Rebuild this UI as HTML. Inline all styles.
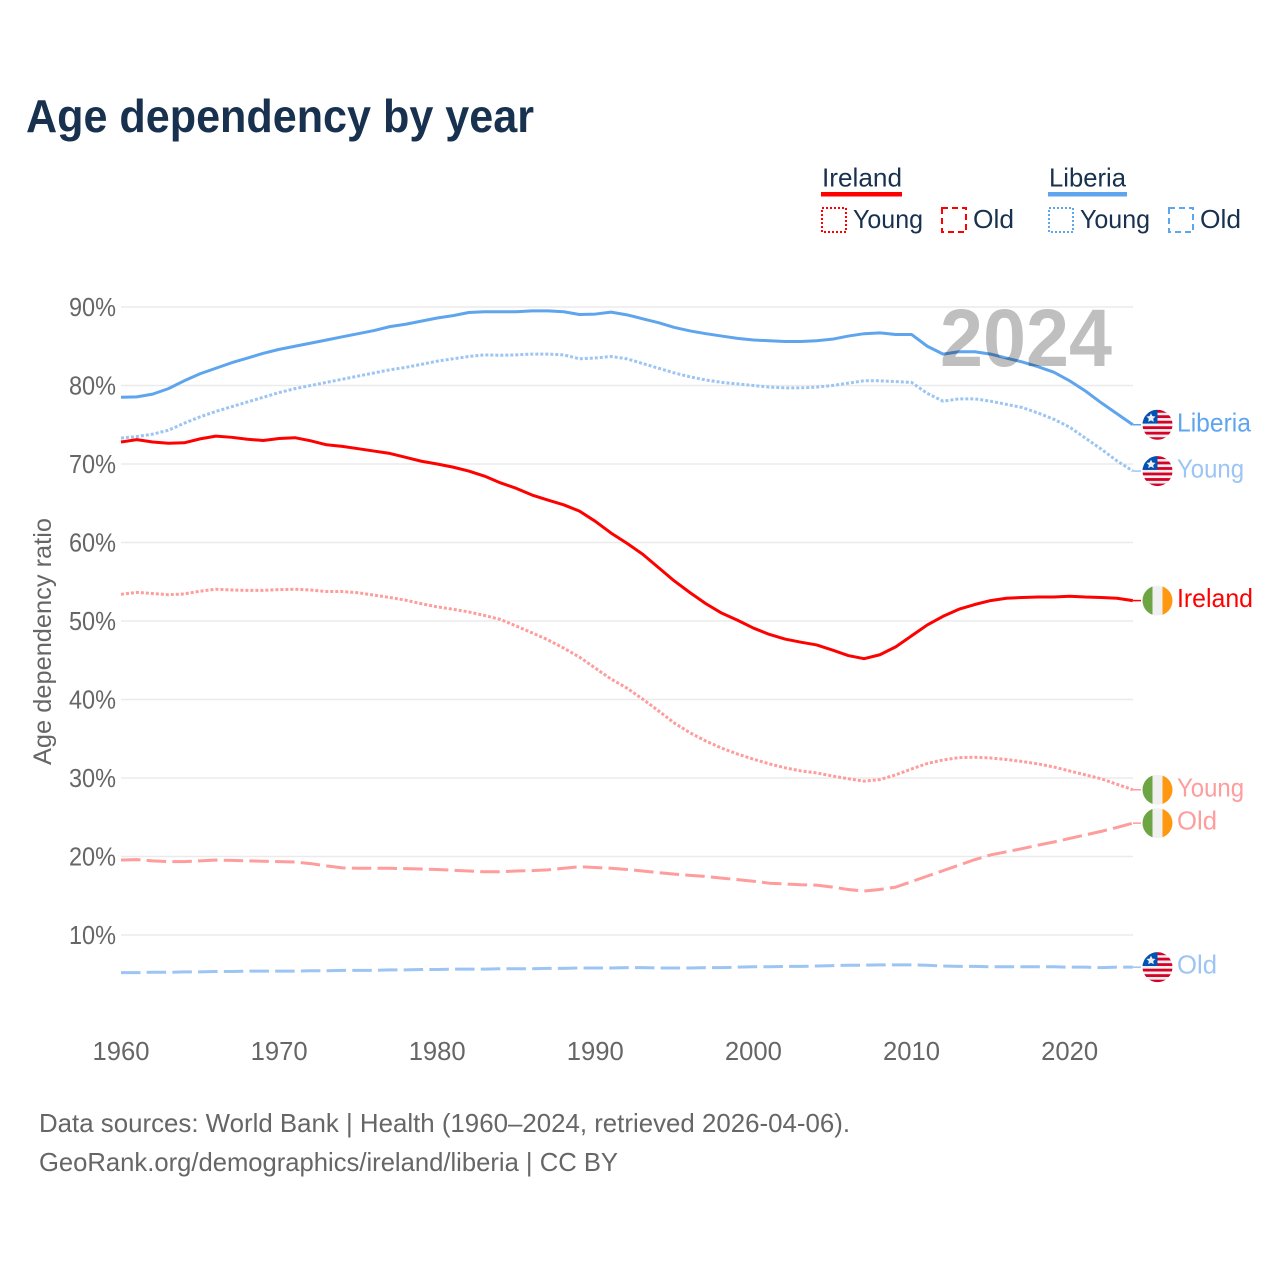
<!DOCTYPE html>
<html lang="en">
<head>
<meta charset="utf-8">
<title>Age dependency by year</title>
<style>
html,body{margin:0;padding:0;background:#fff;}
svg{display:block;font-family:"Liberation Sans",sans-serif;}
</style>
</head>
<body>
<svg id="chart" xmlns="http://www.w3.org/2000/svg" width="1280" height="1280" viewBox="0 0 1280 1280">
  <defs>
    <clipPath id="flag-clip"><circle cx="0" cy="0" r="15"/></clipPath>
    <g id="flag-lr" clip-path="url(#flag-clip)">
      <rect x="-15" y="-15" width="30" height="30" fill="#f0f0f0"/>
      <rect x="-15" y="-15" width="30" height="3" fill="#d80027"/>
      <rect x="-15" y="-9.5" width="30" height="2.8" fill="#d80027"/>
      <rect x="-15" y="-4" width="30" height="2.8" fill="#d80027"/>
      <rect x="-15" y="1.5" width="30" height="2.8" fill="#d80027"/>
      <rect x="-15" y="7" width="30" height="2.8" fill="#d80027"/>
      <rect x="-15" y="12.5" width="30" height="2.8" fill="#d80027"/>
      <rect x="-15" y="-15" width="15" height="13.8" fill="#0052b4"/>
      <polygon points="-6.5,-11.5 -5.1,-8.6 -2,-8.2 -4.3,-6 -3.7,-2.9 -6.5,-4.4 -9.3,-2.9 -8.7,-6 -11,-8.2 -7.9,-8.6" fill="#f0f0f0"/>
    </g>
    <g id="flag-ie" clip-path="url(#flag-clip)">
      <rect x="-15" y="-15" width="30" height="30" fill="#f0f0f0"/>
      <rect x="-15" y="-15" width="10" height="30" fill="#6da544"/>
      <rect x="5" y="-15" width="10" height="30" fill="#ff9811"/>
    </g>
  </defs>

  <rect x="0" y="0" width="1280" height="1280" fill="#fff"/>

  <text x="26" y="132" font-size="46" font-weight="700" fill="#18314f" textLength="508" lengthAdjust="spacingAndGlyphs">Age dependency by year</text>

  <g>
    <text x="822" y="186.5" font-size="26" fill="#18314f" textLength="80" lengthAdjust="spacingAndGlyphs">Ireland</text>
    <rect x="821" y="192" width="81" height="4.5" fill="#ff0000"/>
    <rect x="822" y="208" width="24" height="24" fill="none" stroke="#ff0000" stroke-width="2" stroke-dasharray="2 2"/>
    <text x="853" y="228" font-size="26" fill="#18314f" textLength="70" lengthAdjust="spacingAndGlyphs">Young</text>
    <rect x="942" y="208" width="24" height="24" fill="none" stroke="#ff0000" stroke-width="2" stroke-dasharray="6 4"/>
    <text x="973" y="228" font-size="26" fill="#18314f" textLength="41" lengthAdjust="spacingAndGlyphs">Old</text>

    <text x="1049" y="186.5" font-size="26" fill="#18314f" textLength="77" lengthAdjust="spacingAndGlyphs">Liberia</text>
    <rect x="1048" y="192" width="79" height="4.5" fill="#5fa5ee"/>
    <rect x="1049" y="208" width="24" height="24" fill="none" stroke="#5fa5ee" stroke-width="2" stroke-dasharray="2 2"/>
    <text x="1080" y="228" font-size="26" fill="#18314f" textLength="70" lengthAdjust="spacingAndGlyphs">Young</text>
    <rect x="1169" y="208" width="24" height="24" fill="none" stroke="#5fa5ee" stroke-width="2" stroke-dasharray="6 4"/>
    <text x="1200" y="228" font-size="26" fill="#18314f" textLength="41" lengthAdjust="spacingAndGlyphs">Old</text>
  </g>

  <g id="grid"></g>
  <g id="y-ticks"></g>
  <g id="x-ticks"></g>

  <text transform="translate(51 765) rotate(-90)" font-size="25" fill="#666" textLength="247" lengthAdjust="spacingAndGlyphs">Age dependency ratio</text>

  <g id="series"></g>
  <g id="end-labels"></g>

  <text x="940" y="366" font-size="82" font-weight="700" fill="#000" fill-opacity="0.25" textLength="172" lengthAdjust="spacingAndGlyphs">2024</text>

  <text x="39" y="1132" font-size="26" fill="#666" textLength="811" lengthAdjust="spacingAndGlyphs">Data sources: World Bank | Health (1960–2024, retrieved 2026-04-06).</text>
  <text x="39" y="1171" font-size="26" fill="#666" textLength="579" lengthAdjust="spacingAndGlyphs">GeoRank.org/demographics/ireland/liberia | CC BY</text>
</svg>

<script>
const firstYear = 1960;
const yTickValues = [10, 20, 30, 40, 50, 60, 70, 80, 90];
const xTickYears = [1960, 1970, 1980, 1990, 2000, 2010, 2020];

const liberiaTotal = [78.5,78.55,78.9,79.6,80.6,81.5,82.2,82.9,83.5,84.1,84.6,85.0,85.4,85.8,86.2,86.6,87.0,87.5,87.8,88.2,88.6,88.9,89.3,89.4,89.4,89.4,89.5,89.5,89.4,89.05,89.1,89.35,89.0,88.5,88.0,87.4,86.95,86.6,86.3,86.0,85.8,85.7,85.6,85.6,85.7,85.9,86.3,86.6,86.7,86.5,86.5,85.0,84.0,84.3,84.3,84.0,83.5,83.0,82.4,81.7,80.6,79.3,77.8,76.4,75.0];
const liberiaYoung = [73.3,73.5,73.8,74.3,75.2,76.0,76.7,77.3,77.9,78.5,79.1,79.6,80.0,80.4,80.8,81.2,81.6,82.0,82.3,82.7,83.1,83.4,83.7,83.9,83.85,83.9,84.0,84.0,83.9,83.4,83.5,83.7,83.4,82.8,82.2,81.6,81.1,80.7,80.4,80.2,80.0,79.8,79.7,79.7,79.8,80.0,80.3,80.6,80.6,80.5,80.4,79.0,78.0,78.3,78.3,78.0,77.6,77.2,76.5,75.7,74.7,73.3,71.9,70.4,69.1];
const liberiaOld = [5.2,5.2,5.25,5.25,5.3,5.3,5.35,5.35,5.4,5.4,5.4,5.4,5.45,5.45,5.5,5.5,5.5,5.55,5.55,5.6,5.6,5.65,5.65,5.65,5.7,5.7,5.7,5.75,5.75,5.8,5.8,5.8,5.85,5.85,5.8,5.8,5.8,5.85,5.85,5.9,5.95,5.95,6.0,6.0,6.05,6.1,6.15,6.15,6.2,6.2,6.2,6.15,6.05,6.0,6.0,5.95,5.95,5.95,5.95,5.95,5.9,5.9,5.85,5.9,5.9];

const irelandTotal = [72.8,73.1,72.8,72.65,72.7,73.2,73.55,73.4,73.15,73.0,73.25,73.35,72.95,72.45,72.25,71.95,71.65,71.35,70.85,70.35,70.0,69.6,69.1,68.45,67.6,66.9,66.05,65.4,64.8,64.0,62.7,61.2,59.9,58.5,56.8,55.1,53.6,52.2,51.0,50.1,49.1,48.3,47.7,47.3,46.95,46.3,45.6,45.2,45.7,46.7,48.1,49.5,50.6,51.5,52.1,52.6,52.9,53.0,53.05,53.05,53.15,53.05,53.0,52.9,52.6];
const irelandYoung = [53.4,53.65,53.5,53.35,53.45,53.8,54.05,53.95,53.9,53.9,54.0,54.05,53.95,53.75,53.75,53.6,53.3,53.0,52.65,52.2,51.8,51.5,51.15,50.7,50.2,49.35,48.5,47.6,46.55,45.4,44.0,42.6,41.45,40.05,38.55,37.0,35.75,34.7,33.8,33.05,32.4,31.8,31.3,30.9,30.65,30.25,29.9,29.6,29.8,30.4,31.15,31.85,32.3,32.6,32.65,32.55,32.35,32.1,31.8,31.4,30.9,30.4,29.9,29.2,28.5];
const irelandOld = [19.55,19.6,19.45,19.35,19.35,19.45,19.55,19.5,19.45,19.4,19.35,19.3,19.1,18.8,18.55,18.5,18.5,18.5,18.45,18.4,18.35,18.25,18.15,18.05,18.05,18.15,18.2,18.3,18.5,18.7,18.6,18.5,18.35,18.15,17.95,17.75,17.6,17.45,17.25,17.05,16.85,16.6,16.5,16.4,16.35,16.1,15.8,15.6,15.8,16.1,16.8,17.5,18.2,18.9,19.6,20.2,20.6,21.0,21.45,21.85,22.3,22.75,23.2,23.7,24.25];

const NS = 'http://www.w3.org/2000/svg';
const xScale = function (year) { return 121 + (year - firstYear) * 15.81; };
const yScale = function (value) { return 1013.5 - value * 7.85; };

const labelWidths = { Liberia: 74, Young: 67, Ireland: 76, Old: 40 };

function make(tag, attrs, parent, text) {
  const el = document.createElementNS(NS, tag);
  for (const k in attrs) el.setAttribute(k, attrs[k]);
  if (text !== undefined) el.textContent = text;
  parent.appendChild(el);
  return el;
}

const gridGroup = document.getElementById('grid');
const yTickGroup = document.getElementById('y-ticks');
const xTickGroup = document.getElementById('x-ticks');
const seriesGroup = document.getElementById('series');
const endGroup = document.getElementById('end-labels');

yTickValues.forEach(function (v) {
  const line = make('line', { x1: 121, x2: 1133, y1: yScale(v), y2: yScale(v), stroke: '#ebebeb', 'stroke-width': 1.5 }, gridGroup);
  
  
  const label = make('text', { x: 69, y: yScale(v) + 9, 'font-size': 26, fill: '#666', textLength: 47, lengthAdjust: 'spacingAndGlyphs' }, yTickGroup, v + '%');
  
  
});

xTickYears.forEach(function (yr) {
  const label = make('text', { x: xScale(yr), y: 1060, 'font-size': 26, fill: '#666', 'text-anchor': 'middle', textLength: 57, lengthAdjust: 'spacingAndGlyphs' }, xTickGroup, String(yr));
  
  
});

function drawSeries(values, color, dash, width, name) {
  const pts = values.map(function (v, i) { return xScale(firstYear + i).toFixed(2) + ',' + yScale(v).toFixed(2); }).join(' ');
  const attrs = { points: pts, fill: 'none', stroke: color, 'stroke-width': width, 'stroke-linejoin': 'round' };
  if (dash) attrs['stroke-dasharray'] = dash;
  const line = make('polyline', attrs, seriesGroup);
  
  
}

function drawEnd(values, color, flag, text, name) {
  const y = yScale(values[values.length - 1]);
  const conn = make('line', { x1: 1133, x2: 1141, y1: y, y2: y, stroke: color, 'stroke-width': 1.5 }, endGroup);
  
  
  const f = make('use', { href: '#' + flag, x: 1157.5, y: y }, endGroup);
  
  
  const t = make('text', { x: 1177, y: y + 6.5, 'font-size': 26, fill: color, textLength: labelWidths[text], lengthAdjust: 'spacingAndGlyphs' }, endGroup, text);
  
  
}

const blue = '#5fa5ee', lightBlue = '#9cc5f3', red = '#ff0000', lightRed = '#ff9c9c';

drawSeries(liberiaOld, lightBlue, '19.5 6.2', 3, 'liberia-old-line');
drawSeries(irelandOld, lightRed, '19.5 6.2', 3, 'ireland-old-line');
drawSeries(irelandYoung, lightRed, '3 2', 3, 'ireland-young-line');
drawSeries(liberiaYoung, lightBlue, '3 2', 3, 'liberia-young-line');
drawSeries(irelandTotal, red, null, 3, 'ireland-total-line');
drawSeries(liberiaTotal, blue, null, 3, 'liberia-total-line');

drawEnd(liberiaTotal, blue, 'flag-lr', 'Liberia', 'liberia-total');
drawEnd(liberiaYoung, lightBlue, 'flag-lr', 'Young', 'liberia-young');
drawEnd(liberiaOld, lightBlue, 'flag-lr', 'Old', 'liberia-old');
drawEnd(irelandTotal, red, 'flag-ie', 'Ireland', 'ireland-total');
drawEnd(irelandYoung, lightRed, 'flag-ie', 'Young', 'ireland-young');
drawEnd(irelandOld, lightRed, 'flag-ie', 'Old', 'ireland-old');
</script>
</body>
</html>
